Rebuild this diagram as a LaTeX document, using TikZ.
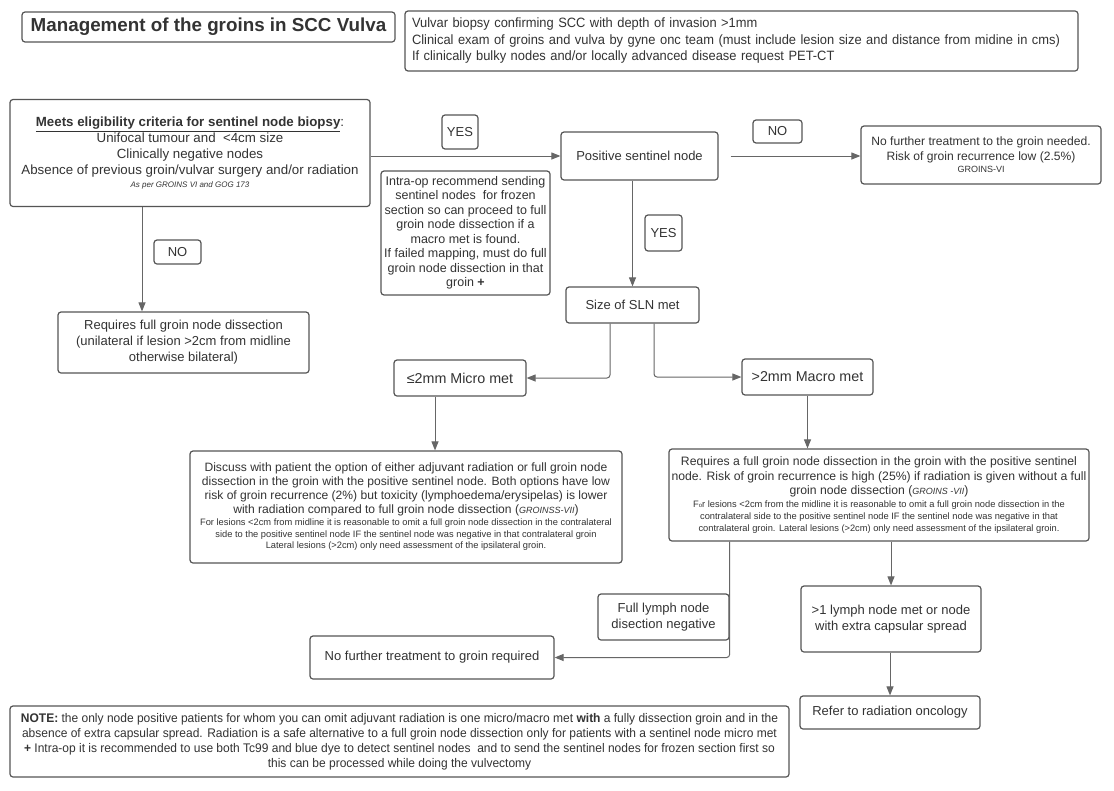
\documentclass[tikz,border=0pt]{standalone}
\usepackage{fontspec}
\setmainfont{Liberation Sans}
\newfontfamily\narrowA[FakeStretch=0.955]{Liberation Sans}
\newfontfamily\narrowB[FakeStretch=0.96]{Liberation Sans}
\usetikzlibrary{arrows.meta}
\definecolor{bordercol}{HTML}{555555}
\definecolor{textcol}{HTML}{333333}
\definecolor{linecol}{HTML}{666666}
\newcommand{\fs}[2]{\fontsize{#1}{#2}\selectfont}
\newcommand{\smA}[1]{{\fs{9.3}{11.5}#1}}
\newcommand{\smB}[1]{{\fs{9.3}{12}#1}}
\tikzset{
  box/.style={draw=bordercol, line width=1.2pt, rounded corners=3pt, fill=white,
    text=textcol, inner sep=0pt, align=center},
  arr/.style={draw=linecol, line width=1pt, -{Triangle[length=9pt,width=7pt]}, rounded corners=3pt},
}
\begin{document}
\begin{tikzpicture}[x=1pt,y=-1pt]
\useasboundingbox[fill=white] (0,0) rectangle (1114,790);

\node[box, minimum width=373, minimum height=30, font=\fs{18.8}{22}\bfseries] (title) at (208.5,27) {Management of the groins in SCC Vulva};

\node[box, text width=659pt, inner xsep=7pt, minimum height=60, align=left, font=\narrowA\fs{13.5}{16.5}] (top) at (741.5,41)
{Vulvar biopsy confirming SCC with depth of invasion >1mm\\
Clinical exam of groins and vulva by gyne onc team (must include lesion size and distance from midine in cms)\\
If clinically bulky nodes and/or locally advanced disease request PET-CT};

\node[box, minimum width=360, minimum height=107, font=\fs{13.3}{16}] (elig) at (190,153)
{\underline{\textbf{Meets eligibility criteria for sentinel node biopsy}}:\\
Unifocal tumour and\ \ <4cm size\\
Clinically negative nodes\\
Absence of previous groin/vulvar surgery and/or radiation\\[-3pt]
{\fs{8}{10}\itshape As per GROINS VI and GOG 173}};

\node[box, minimum width=36, minimum height=34, font=\fs{13}{16}] (yes1) at (460,132) {YES};

\node[box, minimum width=157, minimum height=48, font=\fs{13}{16}] (pos) at (639.5,156) {Positive sentinel node};

\node[box, minimum width=49, minimum height=23, font=\fs{13}{16}] (no1) at (777.5,131.5) {NO};

\node[box, minimum width=240, minimum height=58, font=\fs{12.1}{15}] (nofurther) at (981,155)
{No further treatment to the groin needed.\\
Risk of groin recurrence low (2.5\%)\\[-3pt]
{\fs{9}{11}GROINS-VI}};

\node[box, minimum width=169, minimum height=124, font=\fs{12.5}{14.5}] (intra) at (465.5,233)
{Intra-op recommend sending\\
sentinel nodes\ \ for frozen\\
section so can proceed to full\\
groin node dissection if a\\
macro met is found.\\
If failed mapping, must do full\\
groin node dissection in that\\
groin \textbf{+}};

\node[box, minimum width=37, minimum height=36, font=\fs{13}{16}] (yes2) at (663.5,233) {YES};

\node[box, minimum width=133, minimum height=36, font=\fs{13}{16}] (size) at (632.5,305) {Size of SLN met};

\node[box, minimum width=132, minimum height=36, font=\fs{14.3}{16}] (micro) at (460,378) {≤2mm Micro met};

\node[box, minimum width=131, minimum height=36, font=\fs{14.3}{16}] (macro) at (807.5,377) {>2mm Macro met};

\node[box, minimum width=432, minimum height=112, font=\fs{12.1}{14}] (disc) at (406,507)
{Discuss with patient the option of either adjuvant radiation or full groin node\\
dissection in the groin with the positive sentinel node. Both options have low\\
risk of groin recurrence (2\%) but toxicity (lymphoedema/erysipelas) is lower\\
with radiation compared to full groin node dissection ({\fs{9}{11}\itshape GROINSS-VII})\\[-2pt]
\smA{For lesions <2cm from midline it is reasonable to omit a full groin node dissection in the contralateral}\\[-2.5pt]
\smA{side to the positive sentinel node IF the sentinel node was negative in that contralateral groin}\\[-2.5pt]
\smA{Lateral lesions (>2cm) only need assessment of the ipsilateral groin.}};

\node[box, minimum width=420, minimum height=92, font=\fs{12.2}{14.5}] (macdisc) at (879,495)
{Requires a full groin node dissection in the groin with the positive sentinel\\
node. Risk of groin recurrence is high (25\%) if radiation is given without a full\\
groin node dissection ({\fs{9}{11}\itshape GROINS -VII})\\[-2pt]
\smB{F{\fs{6}{6}o}r lesions <2cm from the midline it is reasonable to omit a full groin node dissection in the}\\[-2.5pt]
\smB{contralateral side to the positive sentinel node IF the sentinel node was negative in that}\\[-2.5pt]
\smB{contralateral groin. Lateral lesions (>2cm) only need assessment of the ipsilateral groin.}};

\node[box, minimum width=131, minimum height=46, font=\fs{13}{16}] (fulllymph) at (663.5,617)
{Full lymph node\\disection negative};

\node[box, minimum width=244, minimum height=43, font=\fs{13}{16}] (nofurther2) at (432,657.5)
{No further treatment to groin required};

\node[box, minimum width=180, minimum height=66, font=\fs{13}{16}] (gt1) at (891,619)
{>1 lymph node met or node\\with extra capsular spread};

\node[box, minimum width=180, minimum height=33, font=\fs{13}{16}] (refer) at (890,712.5)
{Refer to radiation oncology};

\node[box, minimum width=779, minimum height=71, font=\narrowB\fs{12.5}{15}] (note) at (399.5,741.5)
{\textbf{NOTE:} the only node positive patients for whom you can omit adjuvant radiation is one micro/macro met \textbf{with} a fully dissection groin and in the\\
absence of extra capsular spread. Radiation is a safe alternative to a full groin node dissection only for patients with a sentinel node micro met\\
\textbf{+} Intra-op it is recommended to use both Tc99 and blue dye to detect sentinel nodes\ \ and to send the sentinel nodes for frozen section first so\\
this can be processed while doing the vulvectomy};

\node[box, minimum width=47, minimum height=24, font=\fs{13}{16}] (noelig) at (177.5,252) {NO};

\node[box, minimum width=251, minimum height=61, font=\fs{13}{16}] (reqfull) at (183.5,342.5)
{Requires full groin node dissection\\
(unilateral if lesion >2cm from midline\\
otherwise bilateral)};

% connectors
\draw[arr] (elig.east |- pos) -- (pos.west);
\draw[arr] ([xshift=12pt]pos.east) -- (nofurther.west |- pos.east);
\draw[arr] (size.north |- pos.south) -- (size.north);
\draw[arr] ([xshift=-22.5pt]size.south) |- (micro.east);
\draw[arr] ([xshift=21.5pt]size.south) |- (macro.west);
\draw[arr] ([xshift=-25pt]micro.south) -- ([xshift=-25pt]micro.south |- disc.north);
\draw[arr] (macro.south) -- (macro.south |- macdisc.north);
\draw[arr] (fulllymph.east |- macdisc.south) |- (nofurther2.east);
\draw[arr] (gt1.north |- macdisc.south) -- (gt1.north);
\draw[arr] (refer.north |- gt1.south) -- (refer.north);
\draw[arr] ([xshift=-48pt]elig.south) -- ([xshift=-48pt]elig.south |- reqfull.north);
\end{tikzpicture}
\end{document}
